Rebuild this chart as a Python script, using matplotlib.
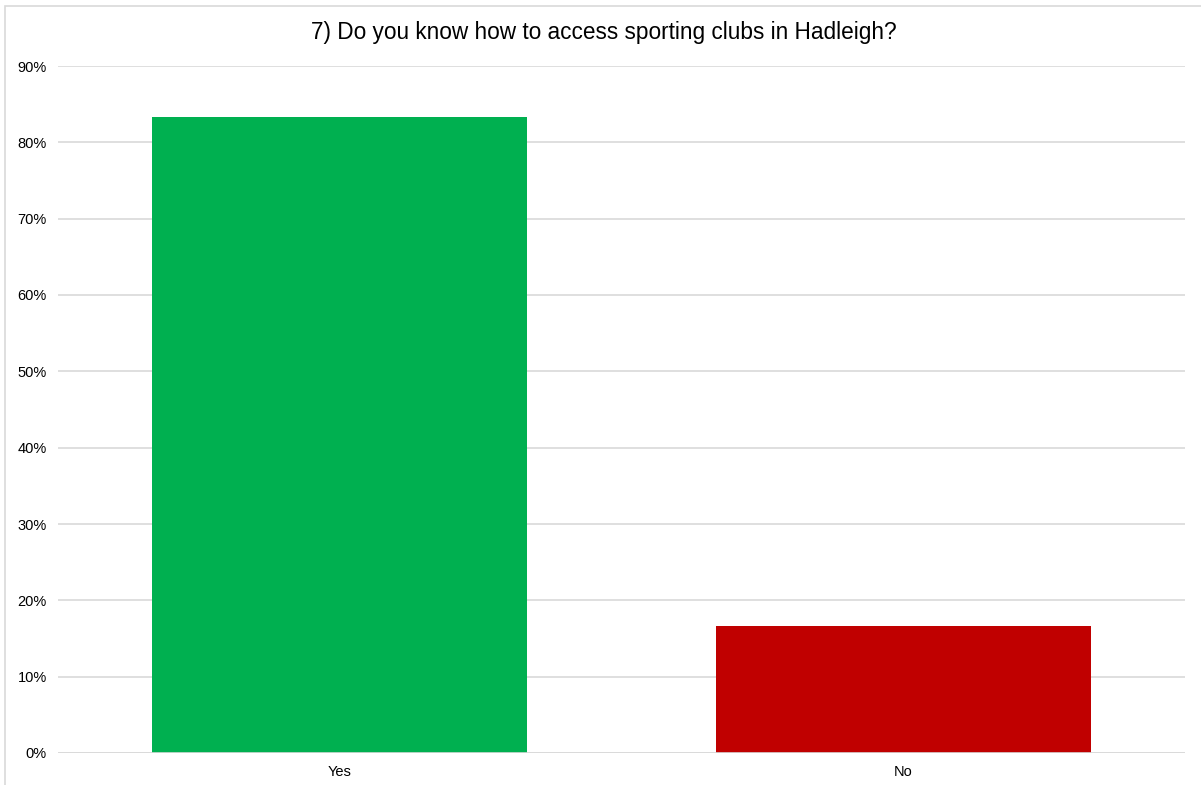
import matplotlib
matplotlib.use("Agg")
import matplotlib.pyplot as plt
from matplotlib.patches import Rectangle
from matplotlib.ticker import PercentFormatter

plt.rcParams['font.family'] = ['Liberation Sans', 'DejaVu Sans']

answers = ["Yes", "No"]
shares = [83.33, 16.67]
bar_colors = ["#00B050", "#C00000"]
title = "7) Do you know how to access sporting clubs in Hadleigh?"

W, H = 1201, 785
fig = plt.figure(figsize=(W / 100, H / 100), dpi=100)
ax = fig.add_axes([58 / W, 1 - 753 / H, (1185 - 58) / W, (753 - 66) / H])

# light chart-area frame
fig.patches.append(Rectangle((5 / W, -0.05), 1.2, 1 - 6 / H + 0.05,
                             transform=fig.transFigure, fill=False,
                             edgecolor="#D9D9D9", linewidth=1.2))

ax.bar(answers, shares, width=0.665, color=bar_colors, zorder=3)
ax.set_xlim(-0.5, 1.5)
ax.set_ylim(0, 90)
ax.set_yticks(range(0, 91, 10))
ax.yaxis.set_major_formatter(PercentFormatter(decimals=0))
ax.grid(axis="y", color="#D9D9D9", linewidth=1.2, zorder=0)
ax.axhline(0, color="#D9D9D9", linewidth=1.2, zorder=4)
for s in ax.spines.values():
    s.set_visible(False)
ax.tick_params(axis="both", length=0, labelsize=10.5, colors="#000000", pad=8)
ax.tick_params(axis="x", pad=9)

fig.text(604 / W, 1 - 33 / H, title, ha="center", va="center",
         fontsize=16.3, color="#000000")

fig.savefig("out.png", dpi=100)
